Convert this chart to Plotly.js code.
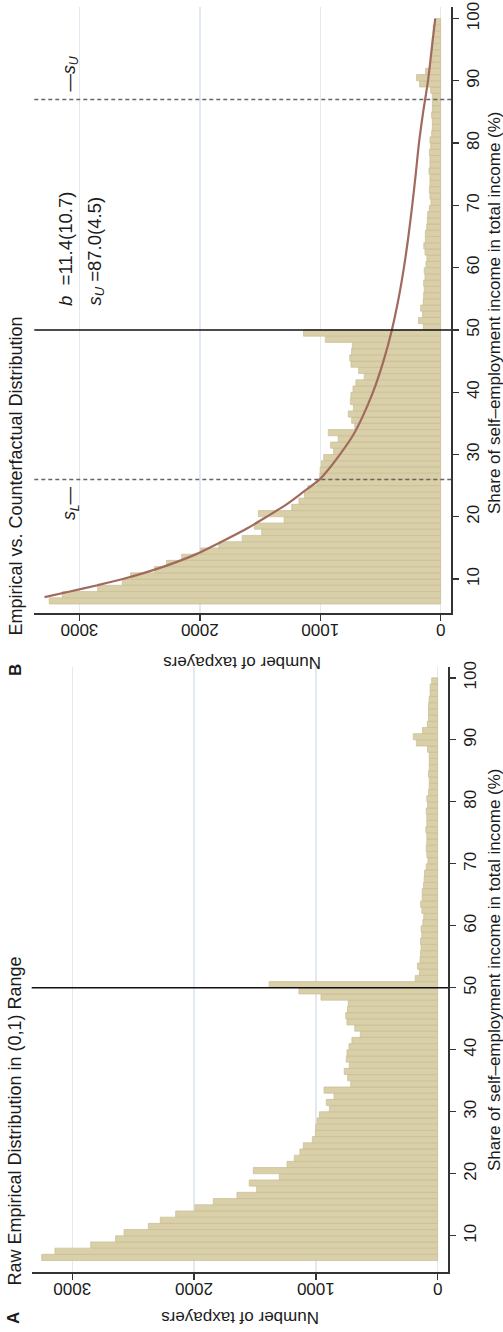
<!DOCTYPE html>
<html>
<head>
<meta charset="utf-8">
<script src="https://cdn.plot.ly/plotly-3.0.1.min.js"></script>
<style>
  html, body { margin: 0; padding: 0; background: #ffffff; }
  #chart { width: 503px; height: 1332px; }
</style>
</head>
<body>
<div id="chart"></div>
<script>
// Lower edge of each one-point bin of the self-employment income share (%)
const binStart = [6, 7, 8, 9, 10, 11, 12, 13, 14, 15, 16, 17, 18, 19, 20, 21, 22, 23, 24, 25,
  26, 27, 28, 29, 30, 31, 32, 33, 34, 35, 36, 37, 38, 39, 40, 41, 42, 43, 44, 45,
  46, 47, 48, 49, 50, 51, 52, 53, 54, 55, 56, 57, 58, 59, 60, 61, 62, 63, 64, 65,
  66, 67, 68, 69, 70, 71, 72, 73, 74, 75, 76, 77, 78, 79, 80, 81, 82, 83, 84, 85,
  86, 87, 88, 89, 90, 91, 92, 93, 94, 95, 96, 97, 98, 99];

// Panel A: raw counts of taxpayers per bin
const countsRaw = [3251, 3142, 2849, 2644, 2575, 2376, 2277, 2151, 1993, 1842,
  1648, 1486, 1547, 1300, 1514, 1237, 1177, 1131, 1103, 1029,
  1004, 1001, 990, 971, 889, 914, 851, 933, 714, 739,
  767, 725, 750, 745, 728, 704, 635, 681, 745, 755,
  740, 734, 958, 1139, 1383, 184, 150, 166, 145, 141,
  136, 141, 130, 136, 122, 114, 130, 140, 127, 127,
  116, 111, 108, 94, 80, 89, 94, 89, 89, 97,
  89, 89, 94, 83, 89, 75, 69, 69, 75, 69,
  69, 69, 83, 175, 200, 125, 85, 75, 75, 75,
  70, 62, 62, 49];

// Panel B: empirical counts (the bunching mass at exactly 50% left out)
const countsEmpirical = [3251, 3142, 2849, 2644, 2575, 2376, 2277, 2151, 1993, 1842,
  1648, 1486, 1547, 1300, 1514, 1237, 1177, 1131, 1103, 1029,
  1004, 1001, 990, 971, 889, 914, 851, 933, 714, 739,
  767, 725, 750, 745, 728, 704, 635, 681, 745, 755,
  740, 734, 958, 1139, 144, 184, 150, 166, 145, 141,
  136, 141, 130, 136, 122, 114, 130, 140, 127, 127,
  116, 111, 108, 94, 80, 89, 94, 89, 89, 97,
  89, 89, 94, 83, 89, 75, 69, 69, 75, 69,
  69, 69, 83, 175, 200, 125, 85, 75, 75, 75,
  70, 62, 62, 49];

// Counterfactual density fitted outside the excluded window
const fitShare = [7.1, 8, 9, 10, 12, 14, 16, 18, 20, 22, 24, 26, 28, 30, 33, 36, 40, 45,
  50, 55, 60, 65, 70, 75, 80, 85, 90, 95, 100];
const fitCount = [3290, 3080, 2850, 2640, 2300, 2030, 1820, 1620, 1445, 1280, 1140, 1005,
  915, 836, 730, 650, 562, 475, 405, 350, 305, 268, 236, 207, 180, 145, 105, 75, 45];

const countTicks = [0, 1000, 2000, 3000];
const shareTicks = [10, 20, 30, 40, 50, 60, 70, 80, 90, 100];

// Kink at 50% and the estimated bounds of the excluded window
const kinkShare = 50;
const sLower = 26;
const bEstimate = 11.4, bStdErr = 10.7;
const sUpper = 87.0, sUpperStdErr = 4.5;

const W = 503, H = 1332;
const FONT = 'Liberation Sans, Arial, Helvetica, sans-serif';
const INK = '#1b1b1b';
const BAR_FILL = 'rgb(217,207,168)';
const BAR_EDGE = 'rgb(200,189,148)';
const FIT_COLOR = '#a06a5e';
const GRID = '#e2e9f1';

const fx = p => p / W;          // horizontal pixel -> paper fraction
const fy = p => 1 - p / H;      // vertical pixel -> paper fraction

const countAxis = {
  tickmode: 'array', tickvals: countTicks, ticktext: countTicks.map(String),
  tickangle: 180, ticks: 'outside', ticklen: 6, tickwidth: 1.3, tickcolor: '#333',
  tickfont: { family: FONT, size: 17, color: INK },
  showline: true, linecolor: '#333', linewidth: 1.5,
  showgrid: true, gridcolor: GRID, gridwidth: 1.3,
  zeroline: false, fixedrange: true
};
const shareAxis = {
  tickmode: 'array', tickvals: shareTicks, ticktext: shareTicks.map(String),
  tickangle: -90, side: 'right', ticks: 'outside', ticklen: 6, tickwidth: 1.3, tickcolor: '#333',
  tickfont: { family: FONT, size: 17, color: INK },
  showline: true, linecolor: '#333', linewidth: 1.5,
  showgrid: false, zeroline: false, fixedrange: true
};

const barStyle = { color: BAR_FILL, line: { color: BAR_EDGE, width: 0.7 } };

const traces = [
  { type: 'bar', orientation: 'h', x: countsRaw, y: binStart, width: 1, offset: 0,
    marker: barStyle, xaxis: 'x', yaxis: 'y', hoverinfo: 'skip' },
  { type: 'bar', orientation: 'h', x: countsEmpirical, y: binStart, width: 1, offset: 0,
    marker: barStyle, xaxis: 'x2', yaxis: 'y2', hoverinfo: 'skip' },
  { type: 'scatter', mode: 'lines', x: fitCount, y: fitShare,
    line: { color: FIT_COLOR, width: 2.2, shape: 'spline', smoothing: 0.8 },
    xaxis: 'x2', yaxis: 'y2', hoverinfo: 'skip' }
];

function hLine(xa, ya, value, color, dash) {
  return { type: 'line', xref: xa + ' domain', x0: 0, x1: 1, yref: ya, y0: value, y1: value,
    line: { color: color, width: 1.5, dash: dash || 'solid' }, layer: 'above' };
}

function label(text, x, y, angle, xanchor, yanchor, size) {
  return {
    text: text, xref: 'paper', yref: 'paper', x: fx(x), y: fy(y),
    textangle: angle, xanchor: xanchor, yanchor: yanchor, showarrow: false,
    font: { family: FONT, size: size, color: INK }, borderpad: 0
  };
}

const shareTitle = 'Share of self\u2013employment income in total income (%)';
const fmt = v => v.toFixed(1);

const annotations = [
  // panel A
  label('<b>A</b>', 13, 1318, -90, 'center', 'middle', 17),
  label('Raw Empirical Distribution in (0,1) Range', 14, 1287, -90, 'center', 'bottom', 18),
  label('Number of taxpayers', 240, 1318, 180, 'center', 'middle', 17),
  label(shareTitle, 494, 970, -90, 'center', 'middle', 17),
  // panel B
  label('<b>B</b>', 15, 670, -90, 'center', 'middle', 17),
  label('Empirical vs. Counterfactual Distribution', 15, 637, -90, 'center', 'bottom', 18),
  label('Number of taxpayers', 242, 662, 180, 'center', 'middle', 17),
  label(shareTitle, 494, 313, -90, 'center', 'middle', 17),
  label('<i>b</i>  =' + fmt(bEstimate) + '(' + fmt(bStdErr) + ')', 65, 307, -90, 'center', 'bottom', 18.5),
  label('<i>s<sub>U</sub></i> =' + fmt(sUpper) + '(' + fmt(sUpperStdErr) + ')', 95, 307, -90, 'center', 'bottom', 18.5),
  label('<i>s<sub>L</sub></i>\u2014', 70, 485, -90, 'center', 'top', 17.5),
  label('\u2014<i>s<sub>U</sub></i>', 70, 93, -90, 'center', 'bottom', 17.5)
];

const layout = {
  width: W, height: H,
  margin: { l: 0, r: 0, t: 0, b: 0 },
  paper_bgcolor: '#ffffff', plot_bgcolor: '#ffffff',
  showlegend: false, bargap: 0,
  font: { family: FONT, size: 17, color: INK },
  xaxis: Object.assign({}, countAxis, { domain: [fx(31.7), fx(448)], range: [3333, -85], anchor: 'y' }),
  yaxis: Object.assign({}, shareAxis, { domain: [fy(1272.3), fy(666.7)], range: [4.1, 101.8], anchor: 'x' }),
  xaxis2: Object.assign({}, countAxis, { domain: [fx(34.3), fx(451)], range: [3375, -86], anchor: 'y2' }),
  yaxis2: Object.assign({}, shareAxis, { domain: [fy(613.3), fy(7.3)], range: [4.5, 101.8], anchor: 'x2' }),
  shapes: [
    hLine('x', 'y', kinkShare, '#111111'),
    hLine('x2', 'y2', kinkShare, '#111111'),
    hLine('x2', 'y2', sLower, '#666666', '4px,3px'),
    hLine('x2', 'y2', sUpper, '#666666', '4px,3px')
  ],
  annotations: annotations
};

Plotly.newPlot('chart', traces, layout, { staticPlot: true, displayModeBar: false });
</script>
</body>
</html>
